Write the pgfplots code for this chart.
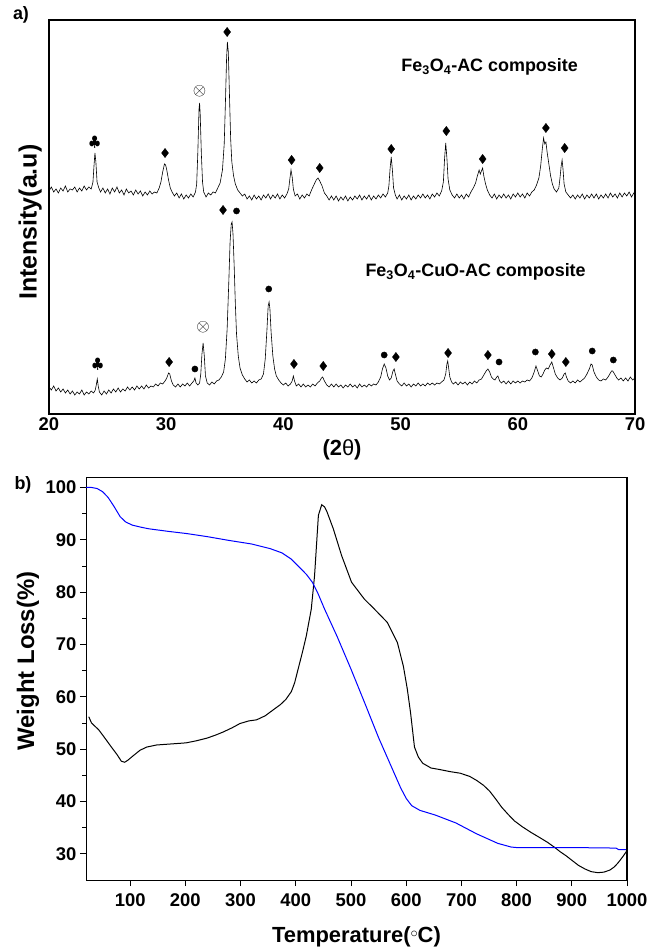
\documentclass[border=0pt]{standalone}
\usepackage{fontspec}
\setmainfont{Liberation Sans}
\usepackage{pgfplots}
\pgfplotsset{compat=1.18}
\begin{document}
\begin{tikzpicture}
\node[font=\fontsize{18}{18}\selectfont\bfseries] at (21bp,934bp) {a)};
\node[font=\fontsize{18}{18}\selectfont\bfseries] at (23bp,464bp) {b)};
% ---------------- panel a : XRD ----------------
\begin{axis}[at={(49bp,535bp)}, anchor=south west, scale only axis,
  width=586bp, height=394bp, xmin=20, xmax=70, ymin=0, ymax=394,
  xtick={20,30,...,70}, ytick=\empty, major tick length=0pt,
  axis line style={line width=1.2bp}, clip=false,
  /pgf/number format/assume math mode=true,
  ticklabel style={font=\fontsize{18.5}{18.5}\selectfont\bfseries},
  xlabel={(2{\mdseries θ})},
  xlabel style={at={(axis description cs:0.5,-0.0914)}, anchor=center, font=\fontsize{22}{22}\selectfont\bfseries},
  ylabel={Intensity(a.u)},
  ylabel style={at={(axis description cs:-0.032,0.487)}, anchor=center, font=\fontsize{25}{25}\selectfont\bfseries}]
% Fe3O4-AC
\addplot[black, line width=0.6bp] coordinates {
(20.0,223) (20.2,227) (20.4,222) (20.6,225) (20.8,221) (21.0,226) (21.2,223) (21.4,228) (21.6,222) (21.8,225)
(22.0,224) (22.2,227) (22.4,222) (22.6,226) (22.8,223) (23.0,228) (23.2,224) (23.4,227) (23.6,225) (23.75,232)
(23.85,250) (23.92,261) (24.0,252) (24.1,232) (24.25,226) (24.4,222) (24.6,226) (24.8,221) (25.0,225) (25.2,220)
(25.4,226) (25.6,222) (25.8,227) (26.0,221) (26.2,224) (26.4,219) (26.6,225) (26.8,221) (27.0,223) (27.2,219)
(27.4,224) (27.6,220) (27.8,223) (28.0,218) (28.2,222) (28.4,219) (28.6,223) (28.8,220) (29.0,222) (29.2,221)
(29.4,226) (29.55,232) (29.7,242) (29.85,250) (29.95,249) (30.05,244) (30.2,234) (30.35,226) (30.5,222) (30.7,218)
(30.9,221) (31.1,216) (31.3,220) (31.5,215) (31.7,219) (31.9,216) (32.1,220) (32.3,217) (32.5,222) (32.6,230)
(32.7,262) (32.8,305) (32.85,311) (32.9,300) (33.0,260) (33.1,232) (33.2,222) (33.4,217) (33.6,221) (33.8,219)
(34.0,222) (34.2,221) (34.4,226) (34.6,231) (34.8,244) (34.95,270) (35.05,310) (35.15,355) (35.22,372) (35.3,362)
(35.4,318) (35.5,275) (35.6,252) (35.75,238) (35.9,230) (36.1,224) (36.3,221) (36.5,218) (36.7,220) (36.9,215)
(37.1,218) (37.3,214) (37.5,219) (37.7,215) (37.9,218) (38.1,214) (38.3,219) (38.5,216) (38.7,220) (38.9,215)
(39.1,219) (39.3,216) (39.5,220) (39.7,215) (39.9,219) (40.1,216) (40.3,220) (40.45,225) (40.55,235) (40.65,244)
(40.75,237) (40.85,225) (41.0,218) (41.2,220) (41.4,215) (41.6,219) (41.8,216) (42.0,220) (42.2,218) (42.4,224)
(42.6,229) (42.8,234) (42.95,236) (43.1,233) (43.3,228) (43.5,221) (43.7,218) (43.9,214) (44.1,218) (44.3,214)
(44.5,218) (44.7,213) (44.9,217) (45.1,214) (45.3,218) (45.5,213) (45.7,217) (45.9,214) (46.1,218) (46.3,215)
(46.5,219) (46.7,214) (46.9,218) (47.1,215) (47.3,219) (47.5,214) (47.7,218) (47.9,215) (48.1,219) (48.3,216)
(48.5,220) (48.7,217) (48.9,221) (49.0,228) (49.1,245) (49.2,257) (49.3,244) (49.4,226) (49.55,219) (49.7,215)
(49.9,219) (50.1,214) (50.3,218) (50.5,215) (50.7,219) (50.9,214) (51.1,218) (51.3,215) (51.5,219) (51.7,216)
(51.9,220) (52.1,216) (52.3,219) (52.5,215) (52.7,220) (52.9,217) (53.1,221) (53.3,218) (53.5,223) (53.65,232)
(53.75,255) (53.85,271) (53.95,256) (54.05,235) (54.2,224) (54.4,219) (54.6,216) (54.8,220) (55.0,216) (55.2,219)
(55.4,215) (55.6,220) (55.8,217) (56.0,222) (56.2,226) (56.4,231) (56.55,238) (56.7,244) (56.8,240) (56.9,243)
(57.0,246) (57.1,238) (57.25,230) (57.4,224) (57.6,219) (57.8,216) (58.0,220) (58.2,215) (58.4,219) (58.6,216)
(58.8,220) (59.0,216) (59.2,219) (59.4,215) (59.6,220) (59.8,217) (60.0,221) (60.2,217) (60.4,220) (60.6,216)
(60.8,221) (61.0,218) (61.2,222) (61.4,224) (61.6,229) (61.8,236) (61.95,248) (62.1,266) (62.2,276) (62.3,270)
(62.4,272) (62.5,262) (62.65,250) (62.8,238) (62.95,230) (63.1,225) (63.3,222) (63.5,226) (63.6,236) (63.7,248)
(63.78,254) (63.85,246) (63.95,230) (64.1,222) (64.3,219) (64.5,216) (64.7,219) (64.9,215) (65.1,219) (65.3,216)
(65.5,220) (65.7,215) (65.9,219) (66.1,216) (66.3,220) (66.5,216) (66.7,220) (66.9,215) (67.1,219) (67.3,216)
(67.5,220) (67.7,216) (67.9,221) (68.1,217) (68.3,220) (68.5,216) (68.7,221) (68.9,217) (69.1,221) (69.3,218)
(69.5,222) (69.7,217) (69.9,221) (70.0,219)};
% Fe3O4-CuO-AC
\addplot[black, line width=0.6bp] coordinates {
(20.0,27) (20.2,24) (20.4,28) (20.6,23) (20.8,26) (21.0,22) (21.2,25) (21.4,21) (21.6,24) (21.8,20)
(22.0,23) (22.2,19) (22.4,22) (22.6,20) (22.8,24) (23.0,19) (23.2,22) (23.4,20) (23.6,23) (23.8,21)
(23.95,24) (24.05,30) (24.12,35) (24.2,28) (24.3,22) (24.5,19) (24.7,23) (24.9,20) (25.1,24) (25.3,21)
(25.5,25) (25.7,22) (25.9,26) (26.1,22) (26.3,25) (26.5,23) (26.7,27) (26.9,24) (27.1,27) (27.3,24)
(27.5,28) (27.7,25) (27.9,28) (28.1,25) (28.3,29) (28.5,26) (28.7,28) (28.9,27) (29.1,30) (29.3,28)
(29.5,31) (29.7,30) (29.9,33) (30.05,36) (30.2,41) (30.3,40) (30.45,33) (30.6,29) (30.8,27) (31.0,30)
(31.2,27) (31.4,30) (31.6,28) (31.8,31) (32.0,28) (32.2,31) (32.35,33) (32.45,36) (32.55,31) (32.7,29)
(32.85,31) (32.95,40) (33.05,60) (33.15,71) (33.25,58) (33.35,38) (33.5,31) (33.7,29) (33.9,32) (34.1,30)
(34.3,33) (34.5,34) (34.7,37) (34.9,42) (35.05,55) (35.2,85) (35.35,135) (35.45,172) (35.55,190) (35.62,192)
(35.7,180) (35.8,148) (35.9,110) (36.0,80) (36.15,58) (36.3,46) (36.5,39) (36.7,35) (36.9,32) (37.1,34)
(37.3,31) (37.5,33) (37.7,31) (37.9,34) (38.1,35) (38.3,40) (38.45,55) (38.6,85) (38.7,108) (38.78,112)
(38.85,105) (38.95,82) (39.1,58) (39.25,45) (39.4,38) (39.6,34) (39.8,31) (40.0,29) (40.2,31) (40.4,28)
(40.6,30) (40.75,33) (40.85,38) (40.95,33) (41.1,28) (41.3,30) (41.5,27) (41.7,30) (41.9,27) (42.1,29)
(42.3,27) (42.5,30) (42.7,28) (42.9,31) (43.1,33) (43.25,36) (43.35,37) (43.5,33) (43.7,29) (43.9,27)
(44.1,30) (44.3,27) (44.5,30) (44.7,27) (44.9,29) (45.1,26) (45.3,29) (45.5,27) (45.7,30) (45.9,27)
(46.1,29) (46.3,26) (46.5,30) (46.7,27) (46.9,29) (47.1,27) (47.3,30) (47.5,28) (47.7,30) (47.9,29)
(48.1,32) (48.3,37) (48.45,45) (48.6,50) (48.75,46) (48.9,38) (49.05,34) (49.2,36) (49.35,43) (49.45,45)
(49.55,40) (49.7,33) (49.9,30) (50.1,28) (50.3,31) (50.5,28) (50.7,30) (50.9,27) (51.1,30) (51.3,28)
(51.5,31) (51.7,28) (51.9,30) (52.1,28) (52.3,31) (52.5,29) (52.7,31) (52.9,29) (53.1,31) (53.3,30)
(53.5,32) (53.7,34) (53.85,40) (53.95,50) (54.02,53) (54.1,46) (54.2,37) (54.35,32) (54.5,30) (54.7,32)
(54.9,29) (55.1,32) (55.3,30) (55.5,32) (55.7,29) (55.9,32) (56.1,30) (56.3,33) (56.5,31) (56.7,34)
(56.9,35) (57.1,39) (57.3,43) (57.45,45) (57.6,42) (57.75,37) (57.9,35) (58.05,34) (58.2,37) (58.3,38)
(58.45,33) (58.6,31) (58.8,33) (59.0,30) (59.2,33) (59.4,30) (59.6,33) (59.8,31) (60.0,33) (60.2,31)
(60.4,33) (60.6,32) (60.8,34) (61.0,33) (61.2,36) (61.4,42) (61.55,48) (61.7,43) (61.85,38) (62.0,37)
(62.15,40) (62.3,44) (62.45,46) (62.6,45) (62.75,49) (62.9,52) (63.05,46) (63.2,40) (63.4,36) (63.6,34)
(63.8,36) (63.95,40) (64.05,41) (64.15,37) (64.3,33) (64.5,31) (64.7,33) (64.9,31) (65.1,34) (65.3,32)
(65.5,34) (65.7,36) (65.9,40) (66.1,45) (66.25,50) (66.35,49) (66.5,42) (66.7,37) (66.9,34) (67.1,33)
(67.3,35) (67.5,34) (67.7,37) (67.85,40) (68.0,43) (68.1,43) (68.25,40) (68.45,36) (68.6,34) (68.8,36)
(69.0,33) (69.2,36) (69.4,33) (69.6,37) (69.8,34) (70.0,36)};
% markers: diamonds
\addplot[only marks, mark=diamond*, mark size=4.6bp, black] coordinates {
(29.9,261) (35.2,382) (40.7,254) (43.1,246) (49.2,265) (53.9,283) (57.0,255) (62.4,286) (64.0,266)
(30.25,52) (34.85,204) (40.9,50) (43.4,48) (49.6,57) (54.05,61) (57.45,59) (62.9,60) (64.1,52)};
% markers: dots
\addplot[only marks, mark=*, mark size=3.1bp, black] coordinates {
(32.45,45) (36.0,203) (38.75,125) (48.6,59) (58.4,52) (61.5,62) (66.35,63) (68.15,54)};
% markers: clubs
\addplot[only marks, mark=text, text mark={\fontsize{14}{14}\selectfont$\clubsuit$}] coordinates {
(23.9,272) (24.15,50)};
% markers: otimes
\addplot[only marks, mark=text, text mark={\fontsize{16}{16}\selectfont$\otimes$}] coordinates {
(32.85,323) (33.15,87)};
\node[font=\fontsize{18}{18}\selectfont\bfseries] at (axis cs:57.6,347) {Fe\textsubscript{3}O\textsubscript{4}-AC composite};
\node[font=\fontsize{18}{18}\selectfont\bfseries] at (axis cs:56.4,142) {Fe\textsubscript{3}O\textsubscript{4}-CuO-AC composite};
\end{axis}
% ---------------- panel b : TGA ----------------
\begin{axis}[at={(86bp,69bp)}, anchor=south west, scale only axis,
  width=541bp, height=403bp, xmin=20, xmax=1000, ymin=25, ymax=102,
  xtick={100,200,...,1000}, ytick={30,40,...,100}, minor ytick={35,45,...,95},
  tick align=outside, xtick pos=left, ytick pos=left,
  major tick length=6bp, minor tick length=3.5bp,
  tick style={black, line width=0.9bp},
  axis line style={line width=1bp},
  /pgf/number format/assume math mode=true, /pgf/number format/1000 sep={},
  ticklabel style={font=\fontsize{18.5}{18.5}\selectfont\bfseries},
  xticklabel style={yshift=-4bp},
  xlabel={Temperature(\raisebox{0.22em}{$\scriptstyle\circ$}C)},
  xlabel style={at={(axis description cs:0.5,-0.1414)}, anchor=center, font=\fontsize{22}{22}\selectfont\bfseries},
  ylabel={Weight Loss(\%)},
  ylabel style={at={(axis description cs:-0.1072,0.5434)}, anchor=center, font=\fontsize{24}{24}\selectfont\bfseries}]
\addplot[black, line width=1bp] coordinates {
(25,56.2) (30,55.0) (43,53.7) (55,52.0) (66,50.4) (76,49.0) (84,47.7) (90,47.5) (96,47.9) (105,48.7)
(118,49.8) (130,50.4) (148,50.8) (175,51.0) (201,51.2) (220,51.6) (239,52.1) (255,52.7) (269,53.3) (285,54.1)
(299,54.9) (315,55.4) (329,55.6) (345,56.4) (359,57.5) (372,58.5) (382,59.5) (392,61.0) (398,62.7) (404,65.2)
(412,68.5) (419,71.6) (428,76.7) (434,83.1) (441,94.7) (447,96.7) (452,96.3) (456,95.5) (468,92.1) (483,87.0)
(501,81.9) (524,78.7) (543,76.7) (566,74.2) (584,70.4) (595,65.8) (602,61.5) (608,56.9) (615,50.4) (622,48.5)
(630,47.3) (645,46.4) (661,46.1) (680,45.7) (698,45.4) (715,44.8) (728,44.0) (740,43.1) (751,42.0) (762,40.5)
(773,38.9) (785,37.5) (796,36.3) (810,35.2) (826,34.1) (842,33.1) (856,32.2) (868,31.3) (879,30.4) (890,29.6)
(901,28.7) (912,27.8) (924,27.1) (935,26.6) (947,26.4) (958,26.5) (969,26.9) (977,27.5) (984,28.3) (992,29.4)
(1000,30.6)};
\addplot[blue, line width=1bp] coordinates {
(20,100) (30,100) (40,99.8) (50,99.2) (60,98.1) (70,96.5) (82,94.4) (92,93.4) (104,92.8) (120,92.4)
(134,92.1) (170,91.6) (202,91.2) (240,90.6) (278,89.9) (320,89.2) (354,88.3) (375,87.5) (392,86.3) (410,84.4)
(420,83.3) (430,81.9) (440,79.8) (452,76.8) (475,71.5) (500,65.3) (525,58.8) (550,52.2) (575,46.2) (590,42.6)
(600,40.6) (610,39.2) (625,38.3) (653,37.4) (690,35.9) (728,33.8) (766,32.0) (790,31.3) (800,31.2) (900,31.2)
(980,31.1) (985,30.8) (1000,30.8)};
\draw[line width=3bp] (rel axis cs:1,0) -- (rel axis cs:1,1);
\draw[line width=1.8bp] (rel axis cs:0,1) -- (rel axis cs:1,1);
\end{axis}
\pgfresetboundingbox
\path[use as bounding box] (0bp,0bp) rectangle (650bp,949bp);
\end{tikzpicture}
\end{document}
